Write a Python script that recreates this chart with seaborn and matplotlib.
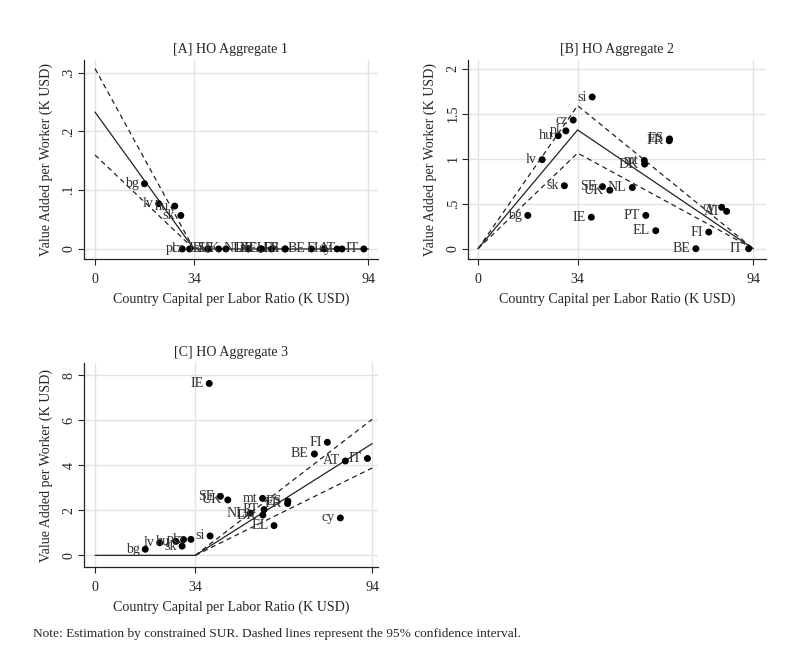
import matplotlib
matplotlib.use("Agg")
import matplotlib.pyplot as plt
import pandas as pd
import seaborn as sns

# country codes and capital per labor ratio (K USD)
countries = ["bg", "lv", "hu", "sk", "pl", "cz", "IE", "si", "SE", "UK", "NL",
             "DK", "mt", "PT", "EL", "ES", "FR", "BE", "FI", "cy", "AT", "IT"]
capital_ratio = [17.0, 21.9, 27.4, 29.5, 30.0, 32.5, 38.7, 39.0, 42.5, 45.0, 52.7,
                 56.9, 56.8, 57.3, 60.7, 65.4, 65.3, 74.4, 78.8, 83.2, 84.9, 92.4]

# value added per worker for each HO aggregate
va_agg1 = [0.111, 0.077, 0.073, 0.057, 0, 0, 0, 0, 0, 0, 0,
           0, 0, 0, 0, 0, 0, 0, 0, 0, 0, 0]
va_agg2 = [0.37, 0.99, 1.256, 0.70, 1.31, 1.43, 0.35, 1.686, 0.69, 0.65, 0.68,
           0.94, 0.98, 0.37, 0.20, 1.22, 1.20, 0.0, 0.185, 0.46, 0.415, 0.0]
va_agg3 = [0.27, 0.56, 0.62, 0.41, 0.70, 0.71, 7.63, 0.86, 2.62, 2.46, 1.87,
           1.79, 2.53, 2.03, 1.32, 2.40, 2.30, 4.50, 5.02, 1.66, 4.19, 4.30]

# constrained SUR fit: kink points and fitted values (fit, upper, lower)
fit_x = [0, 34, 94]
fit1 = [0.233, 0.0, 0.0]
fit1_upper = [0.307, 0.0]
fit1_lower = [0.160, 0.0]
fit2 = [0.0, 1.32, 0.0]
fit2_upper = [0.0, 1.59, 0.0]
fit2_lower = [0.0, 1.063, 0.0]
fit3 = [0.0, 0.0, 4.96]
fit3_upper = [0.0, 6.04]
fit3_lower = [0.0, 3.88]

x_ticks = [0, 34, 94]

sns.set_style("white")
plt.rcParams["font.family"] = ["Liberation Serif", "DejaVu Serif"]
FS = 10.1

df = pd.DataFrame({"country": countries, "k": capital_ratio,
                   "va1": va_agg1, "va2": va_agg2, "va3": va_agg3})

fig = plt.figure(figsize=(7.92, 6.64), dpi=100)

panels = [
    {"rect": [0.106, 0.610, 0.371, 0.300], "col": "va1", "title": "[A] HO Aggregate 1",
     "xlim": (-3.8, 97.2), "ylim": (-0.017, 0.322),
     "yticks": [0, 0.1, 0.2, 0.3], "ylabels": ["0", ".1", ".2", ".3"],
     "fit": fit1, "upper": fit1_upper, "lower": fit1_lower, "ci_x": fit_x[:2]},
    {"rect": [0.591, 0.610, 0.376, 0.300], "col": "va2", "title": "[B] HO Aggregate 2",
     "xlim": (-3.4, 98.3), "ylim": (-0.114, 2.1),
     "yticks": [0, 0.5, 1, 1.5, 2], "ylabels": ["0", ".5", "1", "1.5", "2"],
     "fit": fit2, "upper": fit2_upper, "lower": fit2_lower, "ci_x": fit_x},
    {"rect": [0.106, 0.146, 0.371, 0.307], "col": "va3", "title": "[C] HO Aggregate 3",
     "xlim": (-3.8, 95.9), "ylim": (-0.52, 8.53),
     "yticks": [0, 2, 4, 6, 8], "ylabels": ["0", "2", "4", "6", "8"],
     "fit": fit3, "upper": fit3_upper, "lower": fit3_lower, "ci_x": fit_x[1:]},
]

for p in panels:
    ax = fig.add_axes(p["rect"])
    ax.set_xlim(*p["xlim"])
    ax.set_ylim(*p["ylim"])
    ax.set_xticks(x_ticks)
    ax.set_yticks(p["yticks"])
    ax.set_yticklabels(p["ylabels"], rotation=90, va="center")
    ax.grid(True, color="#e2e2e2", linewidth=1.0)
    ax.set_axisbelow(True)

    sns.lineplot(x=fit_x, y=p["fit"], color="#222222", linewidth=0.9, ax=ax)
    sns.lineplot(x=p["ci_x"], y=p["upper"], color="#222222", linewidth=0.9,
                 linestyle=(0, (4, 3)), ax=ax)
    sns.lineplot(x=p["ci_x"], y=p["lower"], color="#222222", linewidth=0.9,
                 linestyle=(0, (4, 3)), ax=ax)
    sns.scatterplot(data=df, x="k", y=p["col"], color="black", s=25,
                    edgecolor="none", ax=ax, zorder=3)

    for name, xv, yv in zip(df["country"], df["k"], df[p["col"]]):
        ax.annotate(name, (xv, yv), xytext=(-4, 0), textcoords="offset points",
                    ha="right", va="center", color="#333333", fontsize=FS)

    ax.set_title(p["title"], fontsize=FS, pad=5)
    ax.set_xlabel("Country Capital per Labor Ratio (K USD)", fontsize=FS, labelpad=5)
    ax.set_ylabel("Value Added per Worker (K USD)", fontsize=FS, labelpad=7)
    sns.despine(ax=ax)
    for side in ["left", "bottom"]:
        ax.spines[side].set_color("#222222")
        ax.spines[side].set_linewidth(0.9)
    ax.tick_params(axis="both", direction="out", length=4, width=0.8,
                   color="#222222", labelsize=FS, pad=3)
    ax.tick_params(axis="x", pad=6)
    ax.tick_params(axis="y", left=True, pad=2)
    ax.tick_params(axis="x", bottom=True)

fig.text(0.042, 0.045, "Note: Estimation by constrained SUR. Dashed lines represent the 95% confidence interval.",
         fontsize=9.6, ha="left", va="center")

fig.savefig("out.png", dpi=100)
